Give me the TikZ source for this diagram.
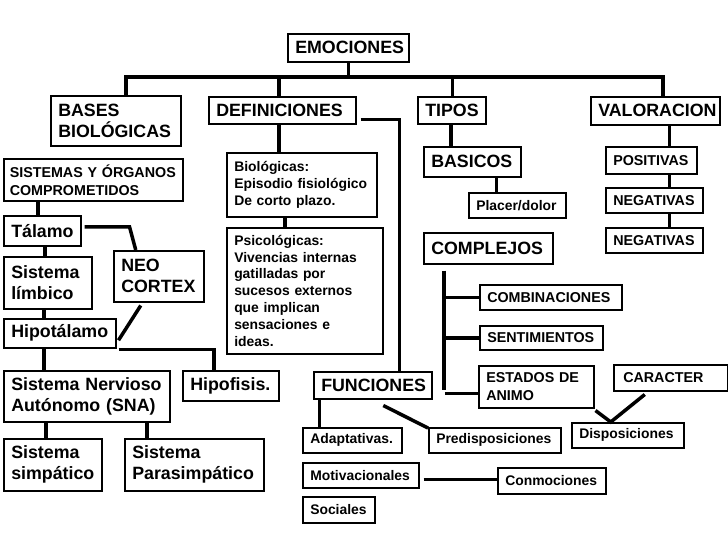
\documentclass[tikz,border=0pt]{standalone}
\usepackage{fontspec}
\setmainfont{Liberation Sans}
\usetikzlibrary{calc}
\tikzset{
  caja/.style={draw,line width=1.5pt,anchor=north west,align=left,inner xsep=7.5pt,inner ysep=1pt},
  grande/.style={font=\bfseries\fontsize{17.8}{21}\selectfont},
  media/.style={font=\bfseries\fontsize{14.3}{18}\selectfont},
  chica/.style={font=\bfseries\fontsize{13.9}{16.8}\selectfont},
  linea/.style={line width=3.5pt},
}
\begin{document}
\begin{tikzpicture}[x=1pt,y=-1pt]
\useasboundingbox[fill=white](0,0)rectangle(728,546);
%cabecera
\node[caja,grande,text width=106pt,minimum height=28pt](emo)at(287,33){EMOCIONES};
\node[caja,grande,text width=115pt,minimum height=50pt](bases)at(50,95){BASES\\BIOLÓGICAS};
\node[caja,grande,text width=132pt,minimum height=27pt](defi)at(208,96){DEFINICIONES};
\node[caja,grande,text width=53pt,minimum height=27pt](tipos)at(417,96){TIPOS};
\node[caja,grande,text width=114pt,minimum height=28pt](valor)at(590,96){VALORACION};
%bases biologicas
\node[caja,media,inner xsep=6pt,text width=167pt,minimum height=42pt](sist)at(3,158){SISTEMAS Y ÓRGANOS\\COMPROMETIDOS};
\node[caja,grande,text width=62pt,minimum height=30pt](talamo)at(3,215){Tálamo};
\node[caja,grande,text width=73pt,minimum height=52pt](limbico)at(3,256){Sistema\\límbico};
\node[caja,grande,text width=75pt,minimum height=51pt](neo)at(113,250){NEO\\CORTEX};
\node[caja,grande,text width=97pt,minimum height=29pt](hipot)at(3,318){Hipotálamo};
\node[caja,grande,text width=81pt,minimum height=30pt](hipof)at(182,370){Hipofisis.};
\node[caja,grande,text width=151pt,minimum height=51pt](sna)at(3,370){Sistema Nervioso\\Autónomo (SNA)};
\node[caja,grande,text width=83pt,minimum height=52pt](simp)at(3,438){Sistema\\simpático};
\node[caja,grande,text width=124pt,minimum height=52pt](para)at(124,438){Sistema\\Parasimpático};
%definiciones
\node[caja,chica,text width=135pt,minimum height=64pt](bio)at(226,152){Biológicas:\\Episodio fisiológico\\De corto plazo.};
\node[caja,chica,text width=141pt,minimum height=126pt](psico)at(226,227){Psicológicas:\\Vivencias internas\\gatilladas por\\sucesos externos\\que implican\\sensaciones e\\ideas.};
\node[caja,grande,text width=103pt,minimum height=27pt](func)at(313,371){FUNCIONES};
\node[caja,chica,text width=84pt,minimum height=25pt](adapt)at(302,427){Adaptativas.};
\node[caja,chica,text width=117pt,minimum height=25pt](predis)at(428,427){Predisposiciones};
\node[caja,chica,text width=101pt,minimum height=25pt](motiv)at(302,462){Motivacionales};
\node[caja,chica,text width=93pt,minimum height=26pt](conmo)at(497,467){Conmociones};
\node[caja,chica,text width=57pt,minimum height=26pt](soc)at(302,496){Sociales};
%tipos
\node[caja,grande,text width=82pt,minimum height=30pt](basicos)at(423,146){BASICOS};
\node[caja,chica,text width=82pt,minimum height=25pt](placer)at(468,192){Placer/dolor};
\node[caja,grande,text width=114pt,minimum height=31pt](complejos)at(423,232){COMPLEJOS};
\node[caja,media,text width=127pt,minimum height=25pt](combi)at(479,284){COMBINACIONES};
\node[caja,media,text width=108pt,minimum height=24pt](senti)at(479,325){SENTIMIENTOS};
\node[caja,media,text width=100pt,minimum height=42pt](estados)at(478,365){ESTADOS DE\\ANIMO};
\node[caja,media,text width=99pt,minimum height=26pt](caracter)at(613,364){\hspace{2pt}CARACTER};
\node[caja,chica,text width=97pt,minimum height=25pt](dispo)at(571,422){Disposiciones};
%valoracion
\node[caja,media,text width=76pt,minimum height=27pt](posit)at(605,146){POSITIVAS};
\node[caja,media,text width=82pt,minimum height=25pt](neg1)at(605,187){NEGATIVAS};
\node[caja,media,text width=82pt,minimum height=25pt](neg2)at(605,227){NEGATIVAS};
%lineas
\draw[linea]([xshift=10pt]bases.north)--++(0,-18)-|([xshift=7.5pt]valor.north);
\draw[linea](emo.south)--++(0,16);
\draw[linea]([xshift=-3.5pt]defi.north)--++(0,-19);
\draw[linea]([xshift=0.5pt]tipos.north)--++(0,-19);
\draw[linea]([shift={(4pt,-9pt)}]defi.east)-|([xshift=26.5pt]func.north);
\draw[linea]([xshift=-3.5pt]defi.south)--([xshift=-3.5pt]defi.south|-bio.north);
\draw[linea]([xshift=-17pt]bio.south)--([xshift=-17pt]bio.south|-psico.north);
\draw[linea]([xshift=-4.5pt]talamo.north)--([xshift=-4.5pt]talamo.north|-sist.south);
\draw[linea]([xshift=-3pt]limbico.north)--([xshift=-3pt]limbico.north|-talamo.south);
\draw[linea]([xshift=-16pt]hipot.north)--([xshift=-16pt]hipot.north|-limbico.south);
\draw[linea]([xshift=-16pt]hipot.south)--([xshift=-16pt]hipot.south|-sna.north);
\draw[linea]([xshift=-7pt]simp.north)--([xshift=-7pt]simp.north|-sna.south);
\draw[linea]([xshift=-47.5pt]para.north)--([xshift=-47.5pt]para.north|-sna.south);
\draw[linea]([shift={(3pt,4pt)}]talamo.east)--++(45,0)--([xshift=-23pt]neo.north);
\draw[linea]([shift={(-18pt,-3pt)}]neo.south)--([shift={(2pt,-7pt)}]hipot.east);
\draw[linea]([shift={(2pt,-1pt)}]hipot.south east)-|([xshift=-17pt]hipof.north);
\draw[linea]([xshift=-21.5pt]basicos.north)--([xshift=-21.5pt]basicos.north|-tipos.south);
\draw[linea]([xshift=-21pt]placer.north)--([xshift=-21pt]placer.north|-basicos.south);
\coordinate(cv)at([shift={(-44.5pt,-6pt)}]complejos.south);
\draw[linea](cv)--++(0,119);
\draw[linea](cv|-combi.west)--(combi.west);
\draw[linea](cv|-senti.west)--(senti.west);
\draw[linea](cv|-estados.west)++(1,6.5)--([yshift=-6.5pt]estados.west);
\draw[linea]([shift={(1pt,-2pt)}]estados.south east)--([xshift=-17pt]dispo.north)--([shift={(-26pt,-3pt)}]caracter.south);
\draw[linea]([xshift=18pt]posit.north)--([xshift=18pt]posit.north|-valor.south);
\draw[linea]([xshift=15pt]neg1.north)--([xshift=15pt]neg1.north|-posit.south);
\draw[linea]([xshift=15pt]neg2.north)--([xshift=15pt]neg2.north|-neg1.south);
\draw[linea]([xshift=-33pt]adapt.north)--([xshift=-33pt]adapt.north|-func.south);
\draw[linea]([shift={(10.5pt,-6pt)}]func.south)--([yshift=-1pt]predis.north west);
\draw[linea]($(motiv.east|-conmo.west)+(4,-1.5)$)--($(conmo.west)+(0,-1.5)$);
\end{tikzpicture}
\end{document}
